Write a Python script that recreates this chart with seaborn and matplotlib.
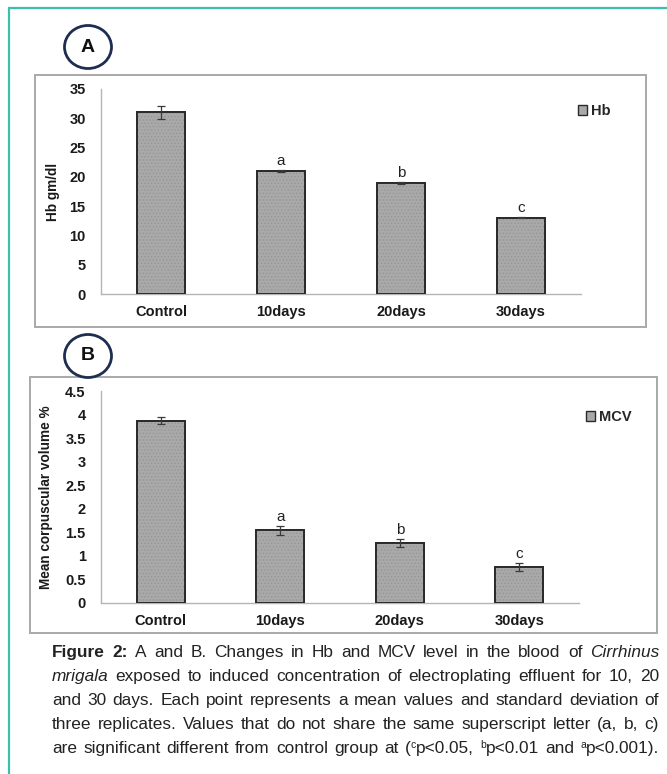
import re
import numpy as np
import pandas as pd
import matplotlib
matplotlib.use("Agg")
import matplotlib.pyplot as plt
from matplotlib.patches import Rectangle, Ellipse, Patch
from matplotlib.lines import Line2D
import seaborn as sns

# ---------------- data ----------------
categories = ["Control", "10days", "20days", "30days"]
hb_mean = [31.0, 21.0, 19.0, 13.0]
hb_sd = [1.1, 0.15, 0.15, 0.1]
mcv_mean = [3.87, 1.54, 1.27, 0.76]
mcv_sd = [0.07, 0.10, 0.08, 0.08]
sig_letters = ["", "a", "b", "c"]
hb_yticks = [0, 5, 10, 15, 20, 25, 30, 35]
mcv_yticks = [0, 0.5, 1, 1.5, 2, 2.5, 3, 3.5, 4, 4.5]
mcv_ticklabels = ["0", "0.5", "1", "1.5", "2", "2.5", "3", "3.5", "4", "4.5"]

caption_lines = [
    "**Figure** **2:** A and B. Changes in Hb and MCV level in the blood of *Cirrhinus*",
    "*mrigala* exposed to induced concentration of electroplating effluent for 10, 20",
    "and 30 days. Each point represents a mean values and standard deviation of",
    "three replicates. Values that do not share the same superscript letter (a, b, c)",
    "are significant different from control group at ({c}p<0.05, {b}p<0.01 and {a}p<0.001).",
]

df = pd.DataFrame({"group": categories, "hb": hb_mean, "hb_sd": hb_sd,
                   "mcv": mcv_mean, "mcv_sd": mcv_sd, "sig": sig_letters})

# ---------------- style ----------------
sns.set_style("white")
plt.rcParams["font.family"] = ["Liberation Sans", "DejaVu Sans"]
plt.rcParams["hatch.linewidth"] = 0.6

W, H = 667, 774
fig = plt.figure(figsize=(W / 100, H / 100), dpi=100)
fig.patch.set_facecolor("white")


def fx(x):
    return x / W


def fy(y):
    return 1 - y / H


BAR_COLOR = "#a9a9a9"
EDGE = "#2a2a2a"
SPINE = "#b5b5b5"
NAVY = "#1e2e50"
TEAL = "#3dbdad"

# teal frame lines
fig.add_artist(Line2D([fx(9), fx(667)], [fy(8), fy(8)], color=TEAL, lw=1.6,
                      transform=fig.transFigure))
fig.add_artist(Line2D([fx(9), fx(9)], [fy(8), fy(774)], color=TEAL, lw=1.6,
                      transform=fig.transFigure))

# panel boxes
for (x0, y0, x1, y1) in [(35, 75, 646, 327), (30, 377, 657, 633)]:
    fig.add_artist(Rectangle((fx(x0), fy(y1)), fx(x1) - fx(x0), fy(y0) - fy(y1),
                             transform=fig.transFigure, fill=False,
                             edgecolor="#a9a9a9", lw=1.4))


def make_panel(rect_px, col, sdcol, ylim, yticks, yticklabels, ylabel,
               ylabel_x, ylabel_size, legend_label, legend_pos):
    l, r, top, bot = rect_px
    ax = fig.add_axes([fx(l), fy(bot), fx(r) - fx(l), fy(top) - fy(bot)])
    sns.barplot(data=df, x="group", y=col, color=BAR_COLOR, width=0.4,
                errorbar=None, saturation=1, edgecolor=EDGE, linewidth=1.3,
                ax=ax, zorder=2)
    # subtle dotted texture
    for p in list(ax.patches):
        ax.add_patch(Rectangle((p.get_x(), p.get_y()), p.get_width(), p.get_height(),
                               facecolor="none", edgecolor="#959595", hatch=".....",
                               lw=0, zorder=2.5))
        ax.add_patch(Rectangle((p.get_x(), p.get_y()), p.get_width(), p.get_height(),
                               facecolor="none", edgecolor=EDGE, lw=1.3, zorder=3))
    xs = np.arange(len(categories))
    ax.errorbar(xs, df[col], yerr=df[sdcol], fmt="none", ecolor="#3a3a3a",
                elinewidth=0.9, capsize=3, capthick=0.9, zorder=4)
    for xi, m, s, lab in zip(xs, df[col], df[sdcol], df["sig"]):
        if lab:
            ax.annotate(lab, (xi, m + s), xytext=(0, 1.5), textcoords="offset points",
                        ha="center", va="bottom", fontsize=11, color="#222222")
    ax.set_xlim(-0.5, len(categories) - 0.5)
    ax.set_ylim(*ylim)
    ax.set_yticks(yticks)
    ax.set_yticklabels(yticklabels)
    ax.set_xticks(xs)
    ax.set_xticks(np.arange(-0.5, len(categories), 1.0), minor=True)
    ax.tick_params(axis="x", which="major", length=0, pad=15.5, labelsize=10.5,
                   labelcolor="#1a1a1a")
    ax.tick_params(axis="x", which="minor", length=5, width=1, color=SPINE,
                   direction="out")
    ax.tick_params(axis="y", length=5, width=1, color=SPINE, direction="out",
                   pad=6, labelsize=10.5, labelcolor="#1a1a1a")
    for t in ax.get_xticklabels():
        t.set_fontweight("bold")
        t.set_verticalalignment("baseline")
    for t in ax.get_yticklabels():
        t.set_fontweight("bold")
    ax.set_xlabel("")
    ax.set_ylabel(ylabel, fontsize=ylabel_size, fontweight="bold", color="#1a1a1a")
    ax.yaxis.set_label_coords((ylabel_x - l) / (r - l), 0.5)
    for s in ["top", "right"]:
        ax.spines[s].set_visible(False)
    for s in ["left", "bottom"]:
        ax.spines[s].set_color(SPINE)
        ax.spines[s].set_linewidth(1.0)
    ax.set_facecolor("none")
    handle = Patch(facecolor=BAR_COLOR, edgecolor=EDGE, linewidth=1.0)
    ax.legend([handle], [legend_label], loc="center left",
              bbox_to_anchor=(fx(legend_pos[0]), fy(legend_pos[1])),
              bbox_transform=fig.transFigure, frameon=False,
              handlelength=0.65, handleheight=0.65, handletextpad=0.25,
              borderpad=0, borderaxespad=0,
              prop={"weight": "bold", "size": 10.5})
    return ax


axA = make_panel((101, 581, 89, 294), "hb", "hb_sd", (0, 35), hb_yticks,
                 [str(v) for v in hb_yticks], "Hb gm/dl", 60, 9.8, "Hb", (578, 111))
axB = make_panel((101, 579, 391, 603), "mcv", "mcv_sd", (0, 4.5), mcv_yticks,
                 mcv_ticklabels, "Mean corpuscular volume %", 53, 9.8, "MCV", (586, 417))

# circled panel letters
for letter, (cx, cy) in [("A", (88, 47)), ("B", (88, 356))]:
    fig.add_artist(Ellipse((fx(cx), fy(cy)), 47 / W, 43 / H, transform=fig.transFigure,
                           facecolor="white", edgecolor=NAVY, lw=2.0, zorder=10))
    fig.text(fx(cx), fy(cy), letter, ha="center", va="center", fontsize=14,
             fontweight="bold", color="#111111", zorder=11)

# ---------------- justified caption ----------------
renderer = fig.canvas.get_renderer()
CAP_SIZE = 12.4
CAP_COLOR = "#222222"


def parse_token(tok):
    if tok.startswith("**") and tok.endswith("**"):
        return [(tok[2:-2], "b")]
    if tok.startswith("*") and tok.endswith("*"):
        return [(tok[1:-1], "i")]
    segs = []
    for part in re.split(r"(\{[a-z]\})", tok):
        if not part:
            continue
        if part.startswith("{"):
            segs.append((part[1:-1], "sup"))
        else:
            segs.append((part, "n"))
    return segs


def seg_props(style):
    d = dict(fontsize=CAP_SIZE, color=CAP_COLOR, fontweight="normal", fontstyle="normal")
    if style == "b":
        d["fontweight"] = "bold"
    elif style == "i":
        d["fontstyle"] = "italic"
    elif style == "sup":
        d["fontsize"] = CAP_SIZE * 0.6
    return d


def measure(s, props):
    t = fig.text(0, 0, s, **props)
    w = t.get_window_extent(renderer).width
    t.remove()
    return w


X0, X1 = 52, 659
baselines = [657, 681, 705, 729, 753]
for line, base in zip(caption_lines, baselines):
    words = [parse_token(t) for t in line.split(" ")]
    widths = []
    for segs in words:
        widths.append([measure(s, seg_props(st)) for s, st in segs])
    total = sum(sum(w) for w in widths)
    gap = (X1 - X0 - total) / (len(words) - 1)
    x = X0
    for segs, ws in zip(words, widths):
        for (s, st), w in zip(segs, ws):
            yoff = 5 if st == "sup" else 0
            fig.text(fx(x), fy(base - yoff), s, ha="left", va="baseline", **seg_props(st))
            x += w
        x += gap

fig.savefig("out.png", dpi=100, facecolor="white")
